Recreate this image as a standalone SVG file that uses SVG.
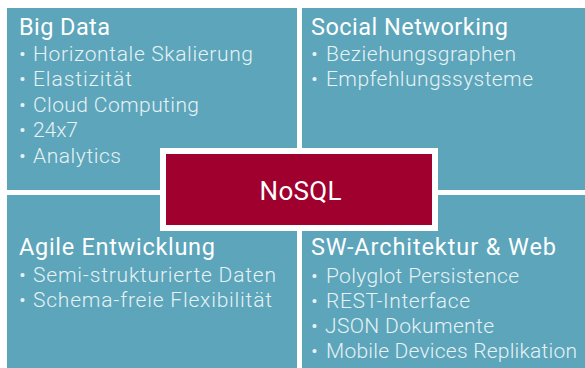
<svg xmlns="http://www.w3.org/2000/svg" width="585" height="368" viewBox="0 0 585 368">
<style>
.panel{fill:#5ca5ba}
.h{font-family:Roboto,"Liberation Sans",sans-serif;font-size:23.5px;fill:#ffffff}
.b{font-family:Roboto,"Liberation Sans",sans-serif;font-weight:300;font-size:21px;fill:#e6f2f5}
.core{fill:#a0002e;stroke:#ffffff;stroke-width:6}
.ct{font-family:Roboto,"Liberation Sans",sans-serif;font-size:26px;fill:#ffffff}
</style>
<rect width="585" height="368" fill="#ffffff"/>
<g id="big-data">
<rect class="panel" x="7" y="8" width="290" height="182"/>
<text class="h" x="19" y="35" textLength="91" lengthAdjust="spacing">Big Data</text>
<text class="b" y="61"><tspan x="19">•</tspan><tspan x="33" textLength="220" lengthAdjust="spacing">Horizontale Skalierung</tspan></text>
<text class="b" y="86"><tspan x="19">•</tspan><tspan x="33" textLength="99" lengthAdjust="spacing">Elastizität</tspan></text>
<text class="b" y="111.5"><tspan x="19">•</tspan><tspan x="33" textLength="166" lengthAdjust="spacing">Cloud Computing</tspan></text>
<text class="b" y="137"><tspan x="19">•</tspan><tspan x="33" textLength="45" lengthAdjust="spacing">24x7</tspan></text>
<text class="b" y="162.5"><tspan x="19">•</tspan><tspan x="33" textLength="88" lengthAdjust="spacing">Analytics</tspan></text>
</g>
<g id="social-networking">
<rect class="panel" x="302" y="8" width="283" height="182"/>
<text class="h" x="311" y="34.5" textLength="197" lengthAdjust="spacing">Social Networking</text>
<text class="b" y="60.5"><tspan x="311">•</tspan><tspan x="326" textLength="190" lengthAdjust="spacing">Beziehungsgraphen</tspan></text>
<text class="b" y="86"><tspan x="311">•</tspan><tspan x="326" textLength="207" lengthAdjust="spacing">Empfehlungssysteme</tspan></text>
</g>
<g id="agile">
<rect class="panel" x="7" y="195" width="290" height="173"/>
<text class="h" x="19" y="254.5" textLength="196" lengthAdjust="spacing">Agile Entwicklung</text>
<text class="b" y="281.5"><tspan x="19">•</tspan><tspan x="33" textLength="243" lengthAdjust="spacing">Semi-strukturierte Daten</tspan></text>
<text class="b" y="306.5"><tspan x="19">•</tspan><tspan x="33" textLength="239" lengthAdjust="spacing">Schema-freie Flexibilität</tspan></text>
</g>
<g id="sw-architektur">
<rect class="panel" x="302" y="195" width="283" height="173"/>
<text class="h" x="311" y="255" textLength="245" lengthAdjust="spacing">SW-Architektur &amp; Web</text>
<text class="b" y="282.5"><tspan x="311">•</tspan><tspan x="326" textLength="193" lengthAdjust="spacing">Polyglot Persistence</tspan></text>
<text class="b" y="307.5"><tspan x="311">•</tspan><tspan x="326" textLength="144" lengthAdjust="spacing">REST-Interface</tspan></text>
<text class="b" y="332.5"><tspan x="311">•</tspan><tspan x="325" textLength="169" lengthAdjust="spacing">JSON Dokumente</tspan></text>
<text class="b" y="357.5"><tspan x="311">•</tspan><tspan x="326" textLength="251" lengthAdjust="spacing">Mobile Devices Replikation</tspan></text>
</g>
<g id="nosql">
<rect class="core" x="163" y="151" width="272" height="77"/>
<text class="ct" x="259.5" y="200" textLength="82" lengthAdjust="spacing">NoSQL</text>
</g>
<g id="connectors"></g>
</svg>
